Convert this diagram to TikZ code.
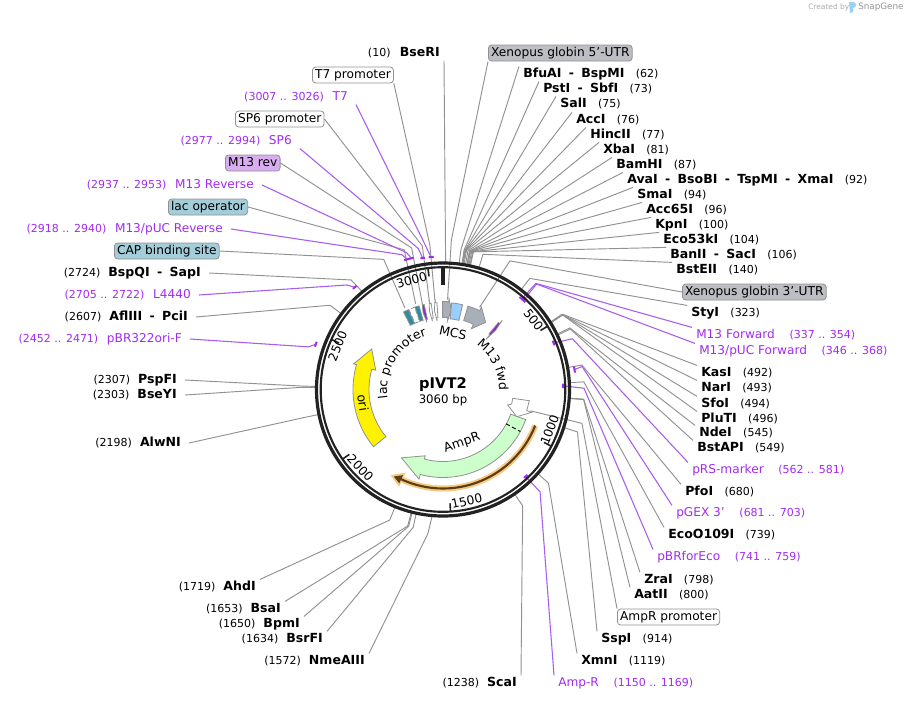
\documentclass[tikz,border=0pt]{standalone}
\usepackage{fontspec}
\setmainfont{DejaVu Sans}
\usetikzlibrary{decorations.text}
\definecolor{purp}{HTML}{A22BF0}
\definecolor{lpurp}{HTML}{A85CF0}
\definecolor{lnk}{HTML}{919191}
\definecolor{ringc}{HTML}{222222}
\definecolor{bxg}{HTML}{BDBEC3}
\definecolor{bxt}{HTML}{A3CDD8}
\definecolor{bxp}{HTML}{D9AEF0}
\definecolor{teal}{HTML}{2E8CA3}
\definecolor{fgray}{HTML}{A9AFB8}
\definecolor{halo}{HTML}{F8C880}
\definecolor{brownc}{HTML}{5A3E18}
\definecolor{mcsb}{HTML}{99CFFF}
\definecolor{wmlight}{HTML}{AAAAAA}
\definecolor{wmdark}{HTML}{969696}
\definecolor{wmblue}{HTML}{96D2F5}
\newcommand\pol[2]{({443+(#2)*sin(#1)},{389.5-(#2)*cos(#1)})}
\newcommand\arcp[3]{plot[domain=#1:#2,samples=30,variable=\t]({443+(#3)*sin(\t)},{389.5-(#3)*cos(\t)})}
\newcommand\nm[1]{{\fontsize{9.4pt}{11pt}\selectfont\bfseries #1}}
\newcommand\nb[1]{{\fontsize{8.25pt}{11pt}\selectfont #1}}
\newcommand\pn[1]{{\fontsize{9.1pt}{11pt}\selectfont #1}}
\newcommand\sepd{\hspace{5.5pt}\nm{-}\hspace{5.5pt}}
\newcommand\gp{\hspace{8.5pt}}
\newcommand\gl{\hspace{6pt}}
% connector: node, anchor, elbow angle, elbow radius, end angle, end radius
\newcommand\lk[7][conn]{\coordinate (#2e) at ({443+(#7)*sin(#6)},{389.5-(#7)*cos(#6)});\coordinate (#2m) at ({443+(#5)*sin(#4)},{389.5-(#5)*cos(#4)});\draw[#1] (#2.#3) -- (#2m) -- (#2e);}
% block arrow: style, start, base, tip, Ri, Ro, head Ri, head Ro
\newcommand\feat[8][]{\draw[fe,#1] plot[domain=#2:#3,samples=30,variable=\t]({443+(#5)*sin(\t)},{389.5-(#5)*cos(\t)}) -- \pol{#3}{#7} -- \pol{#4}{(#5+#6)/2} -- \pol{#3}{#8} -- \pol{#3}{#6} -- plot[domain=#3:#2,samples=30,variable=\t]({443+(#6)*sin(\t)},{389.5-(#6)*cos(\t)}) -- cycle;}
% block: style, start, end, Ri, Ro
\newcommand\rct[5][]{\draw[fe,#1] plot[domain=#2:#3,samples=12,variable=\t]({443+(#4)*sin(\t)},{389.5-(#4)*cos(\t)}) -- plot[domain=#3:#2,samples=12,variable=\t]({443+(#5)*sin(\t)},{389.5-(#5)*cos(\t)}) -- cycle;}
\newcommand\arcfont{\fontsize{9.4pt}{11pt}\selectfont}
\tikzset{
 x=0.75pt,y=-0.75pt,
 lab/.style={inner xsep=3pt,inner ysep=1pt,text height=7pt,text depth=2pt,yshift=-.75pt,font=\fontsize{9.3pt}{11pt}\selectfont},
 rl/.style={lab,anchor=west,xshift=-3pt},
 ll/.style={lab,anchor=east,xshift=3pt},
 lm/.style={ll,inner xsep=6pt,xshift=3pt},
 pur/.style={text=purp},
 bx/.style={lab,anchor=west,draw=lnk,line width=.6pt,rounded corners=2.5pt,inner xsep=2pt,inner ysep=1.5pt,fill=#1,font=\fontsize{9.15pt}{11pt}\selectfont},
 conn/.style={draw=lnk,line width=.7pt},
 pconn/.style={draw=lpurp,line width=.8pt},
 tk/.style={draw=purp,line width=1.5pt},
 fe/.style={draw=lnk,line width=.6pt,line join=miter},
 tick/.style={draw=ringc,line width=1.2pt},
 tl/.style={font=\fontsize{9.2pt}{11pt}\selectfont,inner sep=0pt},
 flab/.style={inner sep=0pt,font=\fontsize{9.4pt}{11pt}\selectfont},
}
\begin{document}
\begin{tikzpicture}
\useasboundingbox[fill=white] (0,0) rectangle (906,700);
% right side labels
\node[lab,anchor=east,xshift=3pt] (bseri) at (440,52) {\nb{(10)}\hspace{7pt}\nm{BseRI}};
\node[bx=bxg] (x5) at (488,52) {Xenopus globin 5'-UTR};
\node[rl] (bfu) at (523,73) {\nm{BfuAI}\sepd\nm{BspMI}\gp\nb{(62)}};
\node[rl] (pst) at (543,88) {\nm{PstI}\sepd\nm{SbfI}\gp\nb{(73)}};
\node[rl] (sal) at (560,103) {\nm{SalI}\gp\nb{(75)}};
\node[rl] (acc) at (576,119) {\nm{AccI}\gp\nb{(76)}};
\node[rl] (hin) at (590,134) {\nm{HincII}\gp\nb{(77)}};
\node[rl] (xba) at (603,149) {\nm{XbaI}\gp\nb{(81)}};
\node[rl] (bam) at (616,164) {\nm{BamHI}\gp\nb{(87)}};
\node[rl] (ava) at (627,179) {\nm{AvaI}\sepd\nm{BsoBI}\sepd\nm{TspMI}\sepd\nm{XmaI}\gp\nb{(92)}};
\node[rl] (sma) at (637,194) {\nm{SmaI}\gp\nb{(94)}};
\node[rl] (a65) at (646,209) {\nm{Acc65I}\gp\nb{(96)}};
\node[rl] (kpn) at (655,224) {\nm{KpnI}\gp\nb{(100)}};
\node[rl] (e53) at (663,239) {\nm{Eco53kI}\gp\nb{(104)}};
\node[rl] (ban) at (670,254) {\nm{BanII}\sepd\nm{SacI}\gp\nb{(106)}};
\node[rl] (bst) at (676,269) {\nm{BstEII}\gp\nb{(140)}};
\node[bx=bxg] (x3) at (682,291) {Xenopus globin 3'-UTR};
\node[rl] (sty) at (691,312) {\nm{StyI}\gp\nb{(323)}};
\node[rl,pur] (mf) at (696,334) {\pn{M13 Forward}\hspace{11pt}\nb{(337 .. 354)}};
\node[rl,pur] (mpf) at (699,350) {\pn{M13/pUC Forward}\hspace{11pt}\nb{(346 .. 368)}};
\node[rl] (kas) at (701,372) {\nm{KasI}\gp\nb{(492)}};
\node[rl] (nar) at (701,387) {\nm{NarI}\gp\nb{(493)}};
\node[rl] (sfo) at (701,403) {\nm{SfoI}\gp\nb{(494)}};
\node[rl] (plu) at (701,418) {\nm{PluTI}\gp\nb{(496)}};
\node[rl] (nde) at (699,432) {\nm{NdeI}\gp\nb{(545)}};
\node[rl] (bap) at (697,447) {\nm{BstAPI}\gp\nb{(549)}};
\node[rl,pur] (prs) at (692,469) {\pn{pRS-marker}\hspace{11pt}\nb{(562 .. 581)}};
\node[rl] (pfo) at (685,491) {\nm{PfoI}\gp\nb{(680)}};
\node[rl,pur] (pgx) at (676,512) {\pn{pGEX 3'}\hspace{11pt}\nb{(681 .. 703)}};
\node[rl] (eco) at (668,534) {\nm{EcoO109I}\gp\nb{(739)}};
\node[rl,pur] (pbf) at (657,556) {\pn{pBRforEco}\hspace{11pt}\nb{(741 .. 759)}};
\node[rl] (zra) at (644,579) {\nm{ZraI}\gp\nb{(798)}};
\node[rl] (aat) at (634,594) {\nm{AatII}\gp\nb{(800)}};
\node[bx=white] (apr) at (617,616) {AmpR promoter};
\node[rl] (ssp) at (601,638) {\nm{SspI}\gp\nb{(914)}};
\node[rl] (xmn) at (581,660) {\nm{XmnI}\gp\nb{(1119)}};
\node[rl,pur] (amr) at (558,682) {\pn{Amp-R}\hspace{11pt}\nb{(1150 .. 1169)}};
% left side labels
\node[ll] (sca) at (517,682) {\nb{(1238)}\gl\nm{ScaI}};
\node[ll] (nme) at (365,660) {\nb{(1572)}\gl\nm{NmeAIII}};
\node[ll] (bsr) at (323,638) {\nb{(1634)}\gl\nm{BsrFI}};
\node[ll] (bpm) at (300,623) {\nb{(1650)}\gl\nm{BpmI}};
\node[ll] (bsa) at (281,608) {\nb{(1653)}\gl\nm{BsaI}};
\node[ll] (ahd) at (256,586) {\nb{(1719)}\gl\nm{AhdI}};
\node[lm] (alw) at (181,442) {\nb{(2198)}\gl\nm{AlwNI}};
\node[lm] (bsy) at (177,394) {\nb{(2303)}\gl\nm{BseYI}};
\node[lm] (psp) at (177,379) {\nb{(2307)}\gl\nm{PspFI}};
\node[lm,pur] (pbr) at (182,338) {\nb{(2452 .. 2471)}\hspace{6.5pt}\pn{pBR322ori-F}};
\node[lm] (afl) at (188,316) {\nb{(2607)}\gl\nm{AflIII}\sepd\nm{PciI}};
\node[lm,pur] (l44) at (191,294) {\nb{(2705 .. 2722)}\hspace{6.5pt}\pn{L4440}};
\node[lm] (bsq) at (201,272) {\nb{(2724)}\gl\nm{BspQI}\sepd\nm{SapI}};
\node[bx=bxt] (cap) at (114,250) {CAP binding site};
\node[lm,pur] (mpr) at (223,228) {\nb{(2918 .. 2940)}\hspace{6.5pt}\pn{M13/pUC Reverse}};
\node[bx=bxt] (lop) at (168,206) {lac operator};
\node[lm,pur] (mr) at (254,184) {\nb{(2937 .. 2953)}\hspace{6.5pt}\pn{M13 Reverse}};
\node[bx=bxp] (mrb) at (225,162) {M13 rev};
\node[lm,pur] (sp6) at (292,140) {\nb{(2977 .. 2994)}\hspace{6.5pt}\pn{SP6}};
\node[bx=white] (spp) at (235,118) {SP6 promoter};
\node[lm,pur] (t7) at (348,96) {\nb{(3007 .. 3026)}\hspace{6.5pt}\pn{T7}};
\node[bx=white] (t7p) at (312,74) {T7 promoter};
% connectors, right
\coordinate (bserie) at ({443+127*sin(1.18)},{389.5-127*cos(1.18)});
\draw[conn] (bseri.south east) -- (bserie);
\lk{x5}{south west}{3.2}{150}{2.9}{90}
\lk{bfu}{north west}{7.29}{141}{7.29}{127}
\lk{pst}{north west}{8.59}{141}{8.59}{127}
\lk{sal}{north west}{8.9}{141}{8.82}{127}
\lk{acc}{north west}{9.1}{141}{8.94}{127}
\lk{hin}{north west}{9.3}{141}{9.06}{127}
\lk{xba}{north west}{9.6}{141}{9.53}{127}
\lk{bam}{north west}{10.2}{141}{10.2}{127}
\lk{ava}{north west}{10.8}{141}{10.8}{127}
\lk{sma}{north west}{11.06}{141}{11.06}{127}
\lk{a65}{north west}{11.3}{141}{11.3}{127}
\lk{kpn}{north west}{11.76}{141}{11.76}{127}
\lk{e53}{north west}{12.2}{141}{12.2}{127}
\lk{ban}{north west}{12.47}{141}{12.47}{127}
\lk{bst}{north west}{16.47}{141}{16.47}{127}
\lk{x3}{west}{27.5}{145}{24}{90}
\lk{sty}{north west}{38}{141}{38}{127}
\lk[pconn]{mf}{north west}{41.2}{141}{41}{120}
\lk[pconn]{mpf}{north west}{41.6}{141}{42}{120}
\lk{kas}{north west}{57.7}{141}{57.9}{127}
\lk{nar}{north west}{57.9}{141}{58}{127}
\lk{sfo}{north west}{58}{141}{58.1}{127}
\lk{plu}{north west}{58.1}{141}{58.3}{127}
\lk{nde}{north west}{64.1}{141}{64.1}{127}
\lk{bap}{north west}{64.6}{141}{64.6}{127}
\lk[pconn]{prs}{north west}{68.6}{139}{67.2}{120}
\lk{pfo}{north west}{80}{141}{80}{127}
\lk[pconn]{pgx}{north west}{80.6}{141}{81.4}{133}
\lk{eco}{north west}{86.9}{141}{86.9}{127}
\lk[pconn]{pbf}{north west}{89.5}{141}{88.2}{120}
\lk{zra}{north west}{93.9}{141}{93.9}{127}
\lk{aat}{north west}{94.1}{141}{94.1}{127}
\lk{apr}{north west}{103.7}{143}{103.7}{90}
\lk{ssp}{north west}{107.5}{141}{107.5}{127}
\lk{xmn}{north west}{131.6}{141}{131.6}{127}
\lk[pconn]{amr}{north west}{136.5}{141}{136.5}{120}
\lk{sca}{north east}{145.6}{141}{145.6}{127}
% connectors, left
\lk{nme}{north east}{186}{145}{184.9}{127}
\lk{bsr}{north east}{192.2}{141}{192.2}{127}
\lk{bpm}{north east}{194.1}{141}{194.1}{127}
\lk{bsa}{north east}{194.5}{141}{194.5}{127}
\lk{ahd}{north east}{202.2}{141}{202.2}{127}
\lk{alw}{east}{258.6}{141}{258.6}{127}
\lk{bsy}{east}{270.9}{141}{270.9}{127}
\lk{psp}{east}{271.4}{141}{271.4}{127}
\lk[pconn]{pbr}{east}{-72.4}{141}{-70.4}{135}
\lk{afl}{east}{306.7}{141}{306.7}{127}
\lk[pconn]{l44}{east}{-42.6}{142}{-40.8}{135}
\lk{bsq}{east}{-40}{143}{-39.5}{127}
\lk{cap}{east}{-24.5}{143}{-25}{90}
\lk[pconn]{mpr}{east}{-17}{141}{-15.4}{135}
\lk{lop}{east}{-15.5}{145}{-17.7}{90}
\lk[pconn]{mr}{east}{-14.9}{141.5}{-13.5}{135}
\lk{mrb}{east}{-12.5}{145}{-13.5}{90}
\lk[pconn]{sp6}{south east}{-9.9}{143}{-8.8}{133}
\lk{spp}{east}{-8.2}{145}{-8.8}{90}
\lk[pconn]{t7}{south east}{-6.6}{142.7}{-5.2}{133}
\lk{t7p}{south east}{-5.2}{145}{-5.2}{90}
% primer ticks
\draw[tk] \arcp{39.6}{43.3}{120};
\draw[tk] \arcp{66}{68.4}{120};
\draw[tk] \arcp{80.0}{82.7}{133};
\draw[tk] \arcp{87.2}{89.3}{120};
\draw[tk] \arcp{135.3}{137.5}{120};
\draw[tk] \arcp{-71.5}{-69.3}{135};
\draw[tk] \arcp{-41.8}{-39.8}{135};
\draw[tk] \arcp{-16.7}{-12.6}{135};
\draw[tk] \arcp{-9.8}{-7.8}{133};
\draw[tk] \arcp{-6.2}{-4}{133};
% ring
\draw[ringc,line width=2.4pt] (443,389.5) circle[radius=126.5];
\draw[ringc,line width=1.6pt] (443,389.5) circle[radius=122.3];
% ticks and numbers
\draw[draw=ringc,line width=2.4pt] \pol{0}{122} -- \pol{0}{105};
\foreach \b/\ra/\ca/\ro in {500/58.82/52.5/-52.5,1000/117.65/110.7/69.3,1500/176.47/168/12,2000/235.29/226.4/-46.4,2500/294.12/292.4/67.6,3000/352.94/344.1/15.9}{
 \draw[tick] \pol{\ra}{122} -- \pol{\ra}{114};
 \node[tl,rotate=\ro] at \pol{\ca}{114} {\b};
}
% features
\feat[fill=yellow]{-129.5}{-74}{-60.4}{74}{90}{70}{93}
\feat[fill=green!20]{110}{195}{211.3}{72}{88}{68.6}{92.8}
\draw[densely dashed,line width=.7pt,black] \pol{118.5}{72} -- \pol{118.5}{88};
\draw[fe,fill=white] (512.7,398.3) -- (529.3,400.7) -- (526.7,410.7) -- (531.7,412.3) -- (516.7,416.7) -- (507.7,405) -- (511.7,404) -- cycle;
\feat[fill=fgray]{-0.3}{3.8}{6}{72}{88}{69}{91}
\rct[fill=mcsb]{5.7}{13}{71}{87}
\feat[fill=fgray]{16.7}{25}{32.4}{72}{87}{67}{91}
\feat[fill=purp!85!black]{39.6}{40.6}{41.6}{72}{87}{66}{91}
\feat[fill=purp!85!black]{-12.5}{-13.5}{-14.5}{72}{87}{69}{90}
\feat[fill=white]{-4}{-5}{-6.2}{72}{87}{69}{91}
\feat[fill=white]{-7.8}{-8.8}{-9.8}{72}{87}{69}{91}
\rct[fill=teal]{-19}{-16}{72}{87}
\rct[fill=white,densely dashed]{-23}{-19}{72}{87}
\rct[fill=teal]{-27}{-23.4}{72}{87}
% orange arrow
\draw[draw=halo,line width=4.5pt] \arcp{111.4}{206}{99};
\fill[fill=halo,draw=halo,line width=2pt] \pol{205}{93.5} -- \pol{210}{100} -- \pol{205}{104.5} -- cycle;
\draw[draw=brownc,line width=1.6pt] \arcp{111.4}{206}{99};
\fill[fill=brownc] \pol{205}{94.5} -- \pol{209.5}{100} -- \pol{205}{103.5} -- cycle;
% centre
\node[inner sep=0pt,font=\fontsize{11pt}{13pt}\selectfont\bfseries] (title) at (443,385) {pIVT2};
\node[inner sep=0pt,font=\fontsize{8.8pt}{11pt}\selectfont] (size) at (443,400) {3060 bp};
% feature labels
\path[decorate,decoration={text along path,text align=center,text={|\arcfont|lac promoter}}] \arcp{-98}{-18}{56};
\path[decorate,decoration={text along path,text align=center,text={|\arcfont|M13 fwd}}] \arcp{32}{96}{56};
\node[flab,rotate=-12] (mcsl) at (453,333) {MCS};
\node[flab,rotate=19] (ampl) at (462,443) {AmpR};
\node[flab,rotate=-81] (oril) at (363,402.7) {ori};
% watermark
\node[anchor=west,inner sep=0pt,text=wmlight,font=\fontsize{5.6pt}{7pt}\selectfont] (made) at (808,7) {Created by};
\fill[fill=wmblue] (849,2) -- (853,2) .. controls (857,2) and (857,8) .. (853,8) -- (853,12) -- (850,13) -- cycle;
\node[anchor=west,inner sep=0pt,text=wmdark,font=\fontsize{6.6pt}{9pt}\selectfont] (sg) at (858,7) {SnapGene};
\end{tikzpicture}
\end{document}
